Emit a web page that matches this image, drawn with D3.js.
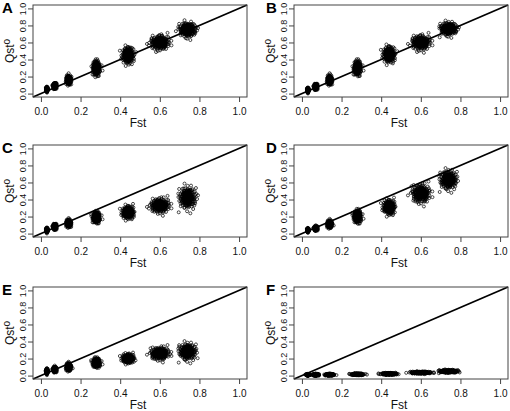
<!DOCTYPE html>
<html><head><meta charset="utf-8">
<script src="https://cdn.jsdelivr.net/npm/d3@7"></script>
<style>body{margin:0;background:#fff}svg{display:block}</style>
</head><body>
<script>
// Cluster summaries (individual points cannot be read)
const panelLabels = ["A","B","C","D","E","F"];
const fstCenters = [0.03, 0.07, 0.14, 0.28, 0.44, 0.60, 0.74];
const fstSD = [0.002, 0.004, 0.006, 0.009, 0.014, 0.022, 0.02];
const fstSD_F = [0.004, 0.007, 0.01, 0.014, 0.018, 0.025, 0.022];
const qstA = [0.05, 0.09, 0.16, 0.30, 0.45, 0.60, 0.75];
const qstA_sd = [0.012, 0.016, 0.025, 0.04, 0.045, 0.04, 0.04];
const qstB = [0.04, 0.08, 0.16, 0.30, 0.46, 0.60, 0.76];
const qstB_sd = [0.012, 0.016, 0.025, 0.04, 0.045, 0.04, 0.035];
const qstC = [0.04, 0.08, 0.12, 0.19, 0.25, 0.33, 0.42];
const qstC_sd = [0.012, 0.016, 0.02, 0.03, 0.035, 0.04, 0.06];
const qstD = [0.04, 0.06, 0.11, 0.20, 0.31, 0.47, 0.63];
const qstD_sd = [0.01, 0.012, 0.02, 0.035, 0.04, 0.05, 0.05];
const qstE = [0.05, 0.07, 0.10, 0.15, 0.20, 0.26, 0.28];
const qstE_sd = [0.014, 0.015, 0.02, 0.025, 0.025, 0.035, 0.045];
const qstF = [0.01, 0.01, 0.01, 0.015, 0.02, 0.035, 0.05];
const qstF_sd = [0.004, 0.005, 0.005, 0.005, 0.005, 0.006, 0.008];
const tickValues = [0, 0.2, 0.4, 0.6, 0.8, 1.0];
const pointsPerCluster = 200;

const panels = [
  {label:panelLabels[0], mean:qstA, sd:qstA_sd, xsd:fstSD},
  {label:panelLabels[1], mean:qstB, sd:qstB_sd, xsd:fstSD},
  {label:panelLabels[2], mean:qstC, sd:qstC_sd, xsd:fstSD},
  {label:panelLabels[3], mean:qstD, sd:qstD_sd, xsd:fstSD},
  {label:panelLabels[4], mean:qstE, sd:qstE_sd, xsd:fstSD},
  {label:panelLabels[5], mean:qstF, sd:qstF_sd, xsd:fstSD_F}
];

// deterministic low-discrepancy (Halton) sequence for scatter within each cluster
function halton(i, b){let f=1,r=0;while(i>0){f/=b;r+=f*(i%b);i=Math.floor(i/b);}return r;}
function cloud(cx, cy, sx, sy, n, off){
  const pts=[];
  for(let k=1;k<=n;k++){
    const u1=halton(k+off,2)*0.998+0.001, u2=halton(k+off,3);
    const rr=Math.sqrt(-2*Math.log(u1));
    pts.push([cx+sx*rr*Math.cos(2*Math.PI*u2), cy+sy*rr*Math.sin(2*Math.PI*u2)]);
  }
  return pts;
}

const W=510,H=411;
const svg=d3.select("body").append("svg").attr("width",W).attr("height",H);
const colLeft=[33,294], rowTop=[5,145,287], bw=214, bh=92;
const font="Liberation Sans, Arial, sans-serif";

panels.forEach((p,pi)=>{
  const col=pi%2,row=Math.floor(pi/2);
  const x0=colLeft[col], y0=rowTop[row];
  const x=d3.scaleLinear().domain([-0.04,1.04]).range([x0,x0+bw]);
  const y=d3.scaleLinear().domain([-0.04,1.04]).range([y0+bh,y0]);
  const g=svg.append("g");
  const pts=[];
  fstCenters.forEach((fc,ci)=>{
    cloud(fc,p.mean[ci],p.xsd[ci],p.sd[ci],pointsPerCluster,ci*137+pi*17).forEach(d=>pts.push(d));
  });
  g.append("g").selectAll("circle").data(pts).join("circle")
    .attr("cx",d=>x(d[0])).attr("cy",d=>y(d[1])).attr("r",1.5)
    .attr("fill","none").attr("stroke","#000").attr("stroke-width",0.7);
  g.append("line").attr("x1",x(-0.04)).attr("y1",y(-0.04)).attr("x2",x(1.04)).attr("y2",y(1.04))
    .attr("stroke","#000").attr("stroke-width",1.8);
  g.append("rect").attr("x",x0).attr("y",y0).attr("width",bw).attr("height",bh)
    .attr("fill","none").attr("stroke","#444").attr("stroke-width",1);
  const xa=g.append("g").attr("transform",`translate(0,${y0+bh})`)
    .call(d3.axisBottom(x).tickValues(tickValues).tickFormat(d3.format(".1f")).tickSize(5).tickSizeOuter(0));
  xa.select(".domain").remove();
  xa.selectAll("line").attr("stroke","#444");
  xa.selectAll("text").attr("font-family",font).attr("font-size",10).attr("fill","#111").attr("dy","1.0em");
  const ya=g.append("g").attr("transform",`translate(${x0},0)`)
    .call(d3.axisLeft(y).tickValues(tickValues).tickFormat(d3.format(".1f")).tickSize(5).tickSizeOuter(0));
  ya.select(".domain").remove();
  ya.selectAll("line").attr("stroke","#444");
  ya.selectAll("text").attr("font-family",font).attr("font-size",9).attr("fill","#111")
    .attr("x",0).attr("y",0).attr("dy",null).attr("text-anchor","middle")
    .attr("transform","translate(-7,0) rotate(-90)");
  g.append("text").attr("x",x0+bw/2-2).attr("y",y0+bh+30).attr("text-anchor","middle")
    .attr("font-family",font).attr("font-size",12).attr("fill","#111").text("Fst");
  const qt=g.append("text").attr("transform",`translate(${x0-19},${y0+bh/2}) rotate(-90)`)
    .attr("text-anchor","middle").attr("font-family",font).attr("font-size",12).attr("fill","#111");
  qt.append("tspan").text("Qst");
  qt.append("tspan").attr("dy","-0.45em").attr("font-size",10).text("o");
  g.append("text").attr("x",col? x0-28 : x0-31).attr("y",y0+8).attr("font-family",font)
    .attr("font-weight","bold").attr("font-size",15).attr("fill","#000").text(p.label);
});
</script>
</body></html>
